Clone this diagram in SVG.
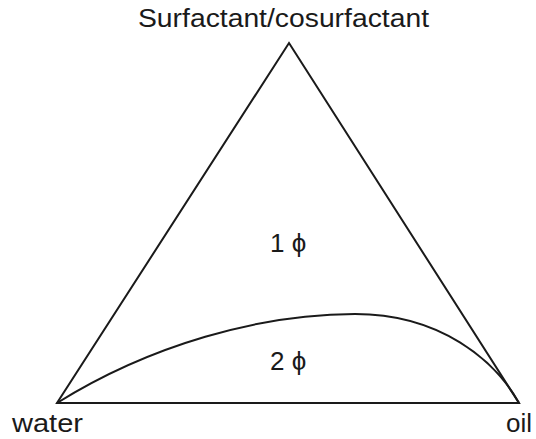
<svg xmlns="http://www.w3.org/2000/svg" width="536" height="439" viewBox="0 0 536 439">
<style>
.lbl{font-family:"Liberation Sans",Arial,sans-serif;font-size:26px;fill:#1a1a1a}
.ln{fill:none;stroke:#1a1a1a;stroke-width:2;stroke-linejoin:miter}
</style>
<rect width="536" height="439" fill="#ffffff"/>
<g id="connectors">
<polygon class="ln" points="289,43 519,403 57,403"/>
<path class="ln" d="M57,403 C150,345 260,314 355,314 C440,314 495,360 519,403"/>
</g>
<g id="node-top"><text class="lbl" x="138" y="27" textLength="291" lengthAdjust="spacingAndGlyphs">Surfactant/cosurfactant</text></g>
<g id="node-water"><text class="lbl" x="12" y="432" textLength="71" lengthAdjust="spacingAndGlyphs">water</text></g>
<g id="node-oil"><text class="lbl" x="506" y="432">oil</text></g>
<g id="region-1"><text class="lbl" x="270" y="252">1 ϕ</text></g>
<g id="region-2"><text class="lbl" x="270" y="370">2 ϕ</text></g>
</svg>
